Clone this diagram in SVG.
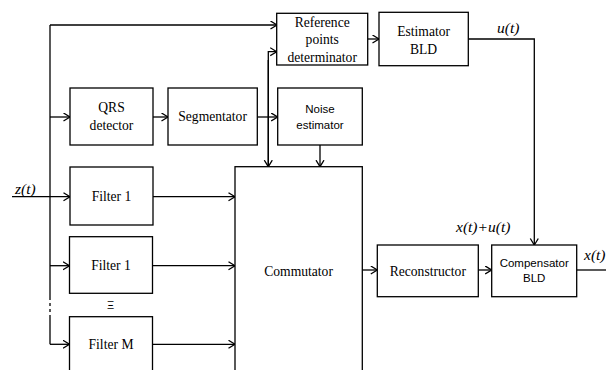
<svg xmlns="http://www.w3.org/2000/svg" width="606" height="370" viewBox="0 0 606 370">
<defs>
<marker id="ar" markerUnits="userSpaceOnUse" markerWidth="10" markerHeight="10" refX="7" refY="4.5" orient="auto">
<path d="M0.5,0.5 L7,4.5 L0.5,8.5" fill="none" stroke="#000" stroke-width="1.3"/>
</marker>
</defs>
<style>
.b{fill:#fff;stroke:#000;stroke-width:1.3}
.l{fill:none;stroke:#000;stroke-width:1.3}
.a{fill:none;stroke:#000;stroke-width:1.3;marker-end:url(#ar)}
.s{font-family:'Liberation Serif',serif;font-size:13.6px;font-weight:normal;text-anchor:middle;fill:#000}
.n{font-family:'Liberation Sans',sans-serif;font-size:11.5px;font-weight:normal;text-anchor:middle;fill:#000}
.i{font-family:'Liberation Serif',serif;font-size:15.5px;font-style:italic;font-weight:normal;fill:#000}
</style>
<rect width="606" height="370" fill="#fff"/>
<g id="connectors">
<path class="l" d="M50,25 V297"/>
<path class="l" d="M50,297 V316" stroke-dasharray="3,3"/>
<path class="l" d="M50,316 V344.3"/>
<path class="a" d="M50,25 H277"/>
<path class="a" d="M50,117 H70"/>
<path class="a" d="M12,196.7 H70"/>
<path class="a" d="M50,265.7 H69.5"/>
<path class="a" d="M50,344.3 H69.5"/>
<path class="a" d="M153,117 H168"/>
<path class="a" d="M257.3,117 H277.7"/>
<path class="a" d="M268.3,166.7 V51.7 H276.7"/>
<path class="a" d="M268.3,60 V166.7"/>
<path class="a" d="M320,145 V166.7"/>
<path class="a" d="M367.7,39 H379"/>
<path class="a" d="M468.3,39 H534.3 V245"/>
<path class="a" d="M153,196.7 H235"/>
<path class="a" d="M152.5,265.7 H235"/>
<path class="a" d="M152.5,344.3 H235"/>
<path class="a" d="M362.3,270 H377.3"/>
<path class="a" d="M478.3,270 H491.7"/>
<path class="l" d="M576.7,270 H606"/>
</g>
<g id="qrs"><rect class="b" x="70" y="88" width="83" height="57"/><text class="s" x="111.5" y="112.3">QRS</text><text class="s" x="111.5" y="130">detector</text></g>
<g id="segmentator"><rect class="b" x="168" y="88" width="89.3" height="57"/><text class="s" x="212.6" y="120.5">Segmentator</text></g>
<g id="refpoints"><rect class="b" x="276.7" y="13.3" width="91" height="51.7"/><text class="s" x="322.2" y="26.5">Reference</text><text class="s" x="322.2" y="44">points</text><text class="s" x="322.2" y="61.5">determinator</text></g>
<g id="estimator"><rect class="b" x="379" y="12.3" width="89.3" height="53.4"/><text class="s" x="423.6" y="35.5">Estimator</text><text class="s" x="423.6" y="53.5">BLD</text></g>
<g id="noise"><rect class="b" x="277.7" y="88" width="84.6" height="57"/><text class="n" x="320" y="113.3">Noise</text><text class="n" x="320" y="128.5">estimator</text></g>
<g id="filter1"><rect class="b" x="70" y="167" width="83" height="58"/><text class="s" x="111.5" y="200.7">Filter 1</text></g>
<g id="filter2"><rect class="b" x="69.5" y="236.7" width="83" height="56.6"/><text class="s" x="111" y="269.5">Filter 1</text></g>
<text x="110.5" y="309" font-family="Liberation Sans, sans-serif" font-size="11" text-anchor="middle">Ξ</text>
<g id="filterM"><rect class="b" x="69.5" y="316.7" width="83" height="70"/><text class="s" x="111" y="349">Filter M</text></g>
<g id="commutator"><rect class="b" x="235" y="166.7" width="127.3" height="220"/><text class="s" x="298.6" y="276">Commutator</text></g>
<g id="reconstructor"><rect class="b" x="377.3" y="245" width="101" height="51.7"/><text class="s" x="427.8" y="276">Reconstructor</text></g>
<g id="compensator"><rect class="b" x="491.7" y="245" width="85" height="51.7"/><text class="n" x="534.2" y="266.7">Compensator</text><text class="n" x="534.2" y="281.7">BLD</text></g>
<g id="labels">
<text class="i" x="15" y="194">z(t)</text>
<text class="i" x="497" y="33">u(t)</text>
<text class="i" x="456" y="232">x(t)+u(t)</text>
<text class="i" x="584" y="260">x(t)</text>
</g>
</svg>
